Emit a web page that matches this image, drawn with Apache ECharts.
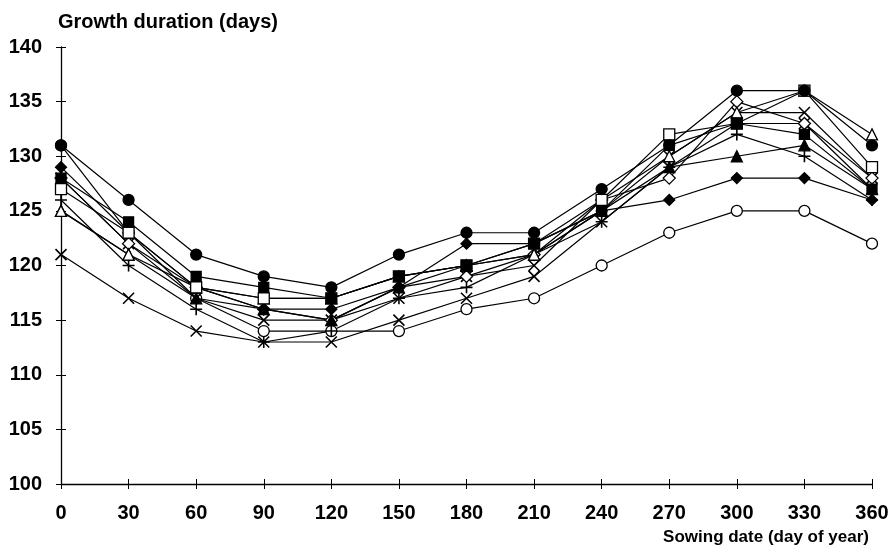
<!DOCTYPE html>
<html>
<head>
<meta charset="utf-8">
<script src="https://cdn.jsdelivr.net/npm/echarts@6/dist/echarts.min.js"></script>
<style>
  html, body { margin: 0; padding: 0; background: #fff; }
  #chart { width: 896px; height: 553px; }
</style>
</head>
<body>
<div id="chart"></div>
<script>
// Sowing dates (day of year)
const sowingDays = [0, 30, 60, 90, 120, 150, 180, 210, 240, 270, 300, 330, 360];

// Growth duration (days) for each series
const filledCircle   = [131, 126, 121, 119, 118, 121, 123, 123, 127, 131, 136, 136, 131];
const filledSquare   = [128, 124, 119, 118, 117, 119, 120, 122, 125, 131, 133, 132, 127];
const filledDiamond  = [129, 123, 118, 116, 116, 118, 122, 122, 125, 126, 128, 128, 126];
const filledTriangle = [125, 121, 117, 116, 115, 118, 120, 121, 125, 129, 130, 131, 127];
const openCircle     = [131, 123, 117, 114, 114, 114, 116, 117, 120, 123, 125, 125, 122];
const openSquare     = [127, 123, 118, 117, 117, 119, 120, 122, 126, 132, 133, 136, 129];
const openTriangle   = [125, 121, 118, 117, 117, 119, 120, 121, 125, 130, 134, 136, 132];
const openDiamond    = [128, 122, 118, 116, 115, 118, 119, 121, 126, 128, 135, 133, 128];
const crossA         = [128, 122, 117, 115, 115, 117, 119, 120, 126, 130, 134, 134, 128];
const crossB         = [121, 117, 114, 113, 113, 115, 117, 119, 124, 129, 133, 133, 127];
const plusSeries     = [126, 120, 116, 113, 114, 117, 118, 121, 124, 129, 132, 130, 126];

// Axis ticks
const xTicks = { min: 0, max: 360, interval: 30 };
const yTicks = { min: 100, max: 140, interval: 5 };

const FONT = 'Liberation Sans, Arial, sans-serif';
const CROSS = 'path://M0,0L10,10M10,0L0,10';
const PLUS = 'path://M5,0L5,10M0,5L10,5';

function pairs(values) {
  return sowingDays.map((d, i) => [d, values[i]]);
}

function series(name, values, symbol, filled, size, z) {
  const stroke = symbol === CROSS || symbol === PLUS;
  return {
    name: name,
    type: 'line',
    data: pairs(values),
    symbol: symbol,
    symbolSize: size,
    symbolKeepAspect: true,
    showAllSymbol: true,
    z: z,
    lineStyle: { color: '#000', width: 1.2 },
    itemStyle: stroke
      ? { color: 'rgba(0,0,0,0)', borderColor: '#000', borderWidth: 1.6 }
      : { color: filled ? '#000' : '#fff', borderColor: '#000', borderWidth: 1.3 },
    emphasis: { disabled: true },
    animation: false
  };
}

const chart = echarts.init(document.getElementById('chart'), null, { renderer: 'canvas' });

const axisLine = { show: true, lineStyle: { color: '#000', width: 1.3 } };

chart.setOption({
  backgroundColor: '#fff',
  animation: false,
  grid: { left: 61, right: 24, top: 47, bottom: 69, containLabel: false },
  title: {
    text: 'Growth duration (days)',
    left: 53, top: 7,
    textStyle: { fontFamily: FONT, fontWeight: 'bold', fontSize: 20, color: '#000' }
  },
  xAxis: [
    {
      type: 'value', min: xTicks.min, max: xTicks.max, interval: xTicks.interval,
      name: 'Sowing date (day of year)',
      nameLocation: 'end', nameGap: 0,
      nameTextStyle: {
        fontFamily: FONT, fontWeight: 'bold', fontSize: 17, color: '#000',
        align: 'right', verticalAlign: 'top', padding: [45, 3, 0, 0]
      },
      axisLine: axisLine,
      axisTick: { show: true, length: 5, lineStyle: { color: '#000', width: 1 } },
      axisLabel: { fontFamily: FONT, fontWeight: 'bold', fontSize: 20, color: '#000', margin: 19 },
      splitLine: { show: false }
    },
    {
      type: 'value', min: xTicks.min, max: xTicks.max, interval: xTicks.interval,
      position: 'bottom', gridIndex: 0,
      axisLine: { show: false },
      axisTick: { show: true, inside: true, length: 5, lineStyle: { color: '#000', width: 1 } },
      axisLabel: { show: false },
      splitLine: { show: false }
    }
  ],
  yAxis: [
    {
      type: 'value', min: yTicks.min, max: yTicks.max, interval: yTicks.interval,
      axisLine: axisLine,
      axisTick: { show: true, length: 5, lineStyle: { color: '#000', width: 1 } },
      axisLabel: { fontFamily: FONT, fontWeight: 'bold', fontSize: 20, color: '#000', margin: 19 },
      splitLine: { show: false }
    },
    {
      type: 'value', min: yTicks.min, max: yTicks.max, interval: yTicks.interval,
      position: 'left',
      axisLine: { show: false },
      axisTick: { show: true, inside: true, length: 5, lineStyle: { color: '#000', width: 1 } },
      axisLabel: { show: false },
      splitLine: { show: false }
    }
  ],
  series: [
    series('open circle', openCircle, 'circle', false, 11, 2),
    series('cross B', crossB, CROSS, false, 11, 2),
    series('plus', plusSeries, PLUS, false, 12, 2),
    series('cross A', crossA, CROSS, false, 11, 3),
    series('open diamond', openDiamond, 'diamond', false, 12, 3),
    series('filled triangle', filledTriangle, 'triangle', true, 11, 3),
    series('filled diamond', filledDiamond, 'diamond', true, 11, 4),
    series('open triangle', openTriangle, 'triangle', false, 11, 4),
    series('open square', openSquare, 'rect', false, 11, 4),
    series('filled square', filledSquare, 'rect', true, 10, 5),
    series('filled circle', filledCircle, 'circle', true, 11, 5)
  ]
});
</script>
</body>
</html>
